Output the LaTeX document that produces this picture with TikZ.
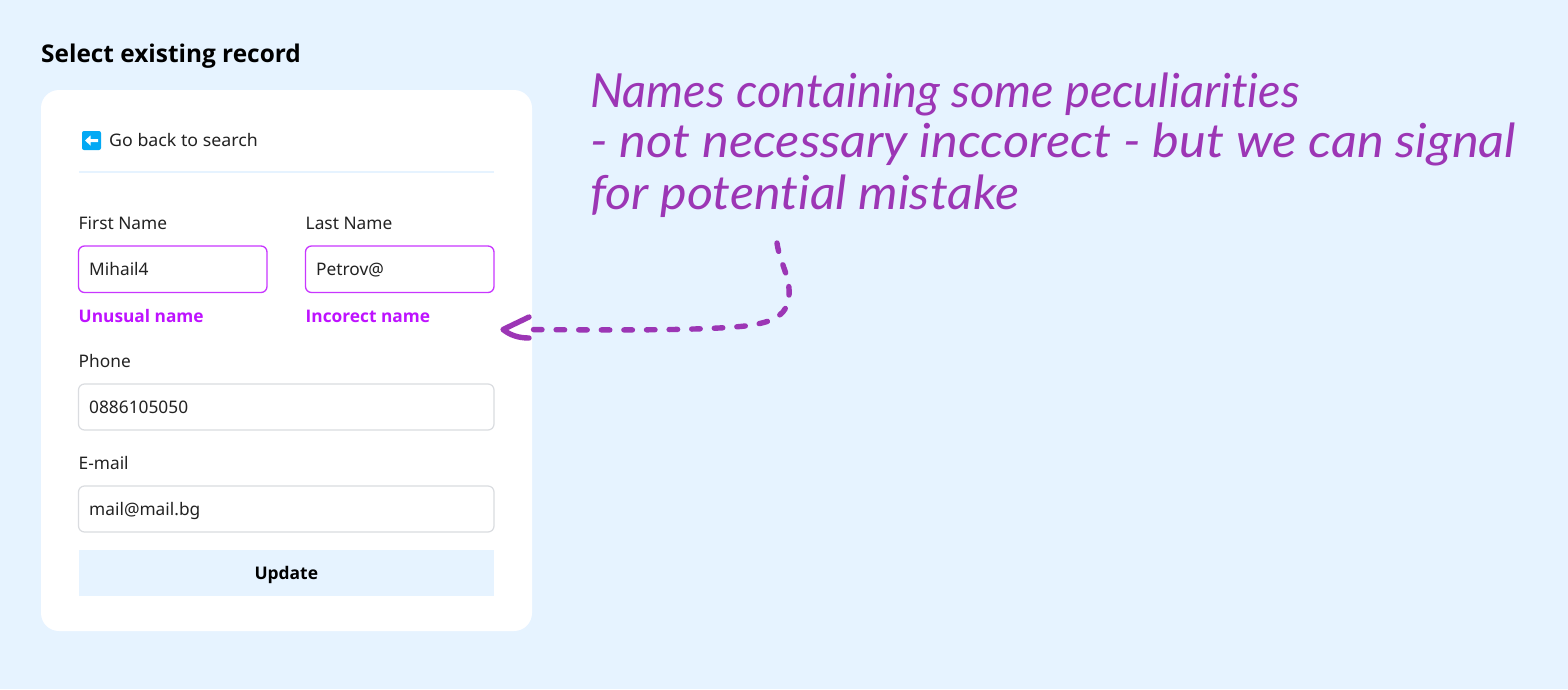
\documentclass[tikz,border=0pt]{standalone}
\usepackage{fontspec}
\setmainfont{Noto Sans}[BoldFont={Open Sans Bold}]
\newfontfamily\handfont{Lato}[ItalicFont={Lato Italic},Ligatures={NoCommon}]
\usetikzlibrary{calc}
\definecolor{pagebg}{HTML}{E6F3FF}
\definecolor{hand}{HTML}{9C36B5}
\definecolor{warn}{HTML}{BE12FF}
\definecolor{inkc}{HTML}{222222}
\definecolor{fieldline}{HTML}{DADCE0}
\definecolor{iconblue}{HTML}{03A9F4}
\tikzset{
  x=1pt,y=-1pt,
  label text/.style={anchor=base west,inner sep=0,text=inkc,font=\fontsize{17.3}{20}\selectfont},
  warn text/.style={anchor=base west,inner sep=0,text=warn,font=\fontsize{17.3}{20}\selectfont\bfseries},
  hand text/.style={anchor=base west,inner sep=0,text=hand,font=\handfont\itshape\fontsize{47}{50}\selectfont},
  field/.style={draw=fieldline,line width=1.2pt,fill=white,rounded corners=6pt},
  warnfield/.style={draw=warn!85!white,line width=1.3pt,fill=white,rounded corners=6pt},
  hand line/.style={draw=hand,line width=5.4pt,line cap=round,line join=round},
}
\begin{document}
\begin{tikzpicture}
\path[use as bounding box,fill=pagebg] (0,0) rectangle (1568,689);
\node[anchor=base west,inner sep=0,font=\fontsize{24.4}{28}\selectfont\bfseries,text=black] (title) at (41,62.5) {Select existing record};
\fill[white,rounded corners=18pt] (41,90) rectangle (532,631);
% back link
\fill[iconblue,rounded corners=2pt] (82,131) rectangle (101,150);
\fill[white] (85,140.5) -- (90.5,135.5) -- (90.5,139) -- (98,139) -- (98,142) -- (90.5,142) -- (90.5,145.5) -- cycle;
\node[label text] (back) at (109,146) {\scalebox{1.027}[1]{Go back to search}};
\draw[pagebg,line width=2pt] (79,172) -- (494,172);
% names
\node[label text] (fn) at (78.5,229.5) {First Name};
\node[label text] (ln) at (305.5,229.5) {Last Name};
\draw[warnfield] (78.5,246) rectangle (267,292.5);
\draw[warnfield] (305.5,246) rectangle (494,292.5);
\node[label text] (fnv) at (89,275.5) {Mihail4};
\node[label text] (lnv) at (316,275.5) {Petrov@};
\node[warn text] (fne) at (78.5,322) {Unusual name};
\node[warn text] (lne) at (305.5,322) {Incorect name};
% phone
\node[label text] (ph) at (78.5,367.5) {Phone};
\draw[field] (78.5,384) rectangle (494,430);
\node[label text] (phv) at (89,413.5) {0886105050};
% email
\node[label text] (em) at (78.5,469.5) {E-mail};
\draw[field] (78.5,486) rectangle (494,532);
\node[label text] (emv) at (89,515.5) {mail@mail.bg};
% button
\fill[pagebg] (78.5,550) rectangle (494,595.5);
\node[anchor=base,font=\fontsize{17.4}{20}\selectfont\bfseries,text=black,inner sep=0] (upd) at (286.3,579) {Update};
% note
\node[hand text] (n1) at (590,107) {Names containing some peculiarities};
\node[hand text] (n2) at (590,157.5) {\scalebox{1.077}[1]{- not necessary inccorect - but we can signal}};
\node[hand text] (n3) at (590,209) {\scalebox{1.07}[1]{for potential mistake}};
% arrow
\coordinate (as) at (777,243);
\coordinate (at) at (503,329.5);
\coordinate (au) at (529,317);
\coordinate (ad) at (529,338);
\draw[hand line,dash pattern=on 8.5pt off 14.1pt] (as) .. controls (780,265) and (793,280) .. (788,302)
  .. controls (784,318) and (768,323) .. (745,326)
  .. controls (700,331) and (600,330) .. (525,329.5);
\draw[hand line] (au) -- (at) .. controls (510,335) and (518,338) .. (ad);
\end{tikzpicture}
\end{document}
